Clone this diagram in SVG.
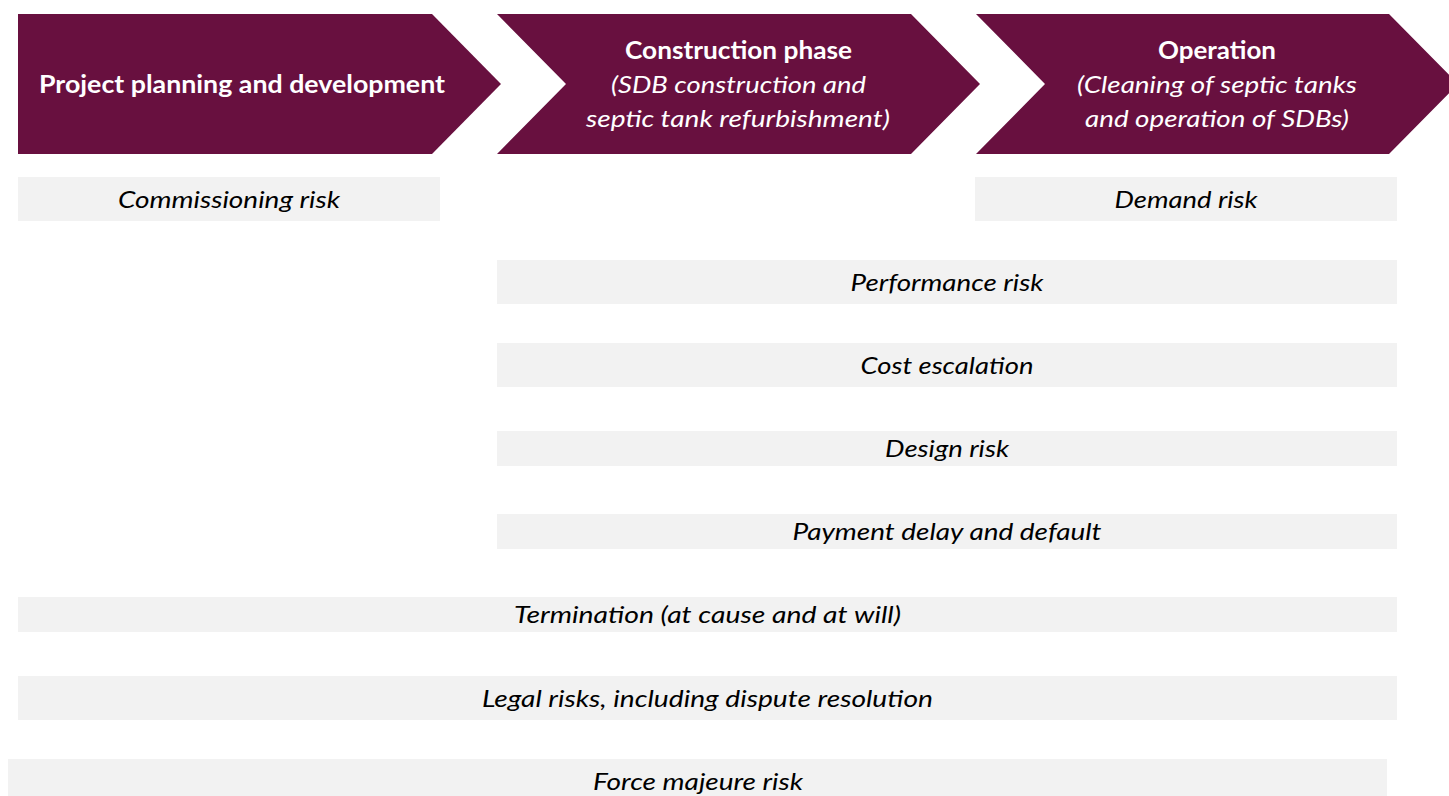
<svg xmlns="http://www.w3.org/2000/svg" width="1449" height="796" viewBox="0 0 1449 796">
<style>
.chev{fill:#68103F}
.bar{fill:#F2F2F2}
.ht{font-family:Lato,"Open Sans","Liberation Sans",sans-serif;font-size:24px;fill:#FFFFFF;text-anchor:middle}
.hb{font-weight:bold}
.hi{font-style:italic}
.bt{font-family:Lato,"Open Sans","Liberation Sans",sans-serif;font-size:24px;font-style:italic;fill:#000000;text-anchor:middle}
</style>
<rect width="1449" height="796" fill="#FFFFFF"/>
<g id="phase-planning">
<polygon class="chev" points="18,14 432,14 501,84 432,154 18,154"/>
<text class="ht hb" x="242" y="93" textLength="406" lengthAdjust="spacingAndGlyphs">Project planning and development</text>
</g>
<g id="phase-construction">
<polygon class="chev" points="497,14 911,14 980,84 911,154 497,154 566,84"/>
<text class="ht hb" x="738.5" y="59" textLength="227" lengthAdjust="spacingAndGlyphs">Construction phase</text>
<text class="ht hi" x="738.5" y="93" textLength="255" lengthAdjust="spacingAndGlyphs">(SDB construction and</text>
<text class="ht hi" x="738" y="127" textLength="304" lengthAdjust="spacingAndGlyphs">septic tank refurbishment)</text>
</g>
<g id="phase-operation">
<polygon class="chev" points="976,14 1389,14 1458,84 1389,154 976,154 1045,84"/>
<text class="ht hb" x="1217" y="59" textLength="118" lengthAdjust="spacingAndGlyphs">Operation</text>
<text class="ht hi" x="1217" y="93" textLength="280" lengthAdjust="spacingAndGlyphs">(Cleaning of septic tanks</text>
<text class="ht hi" x="1217" y="127" textLength="264" lengthAdjust="spacingAndGlyphs">and operation of SDBs)</text>
</g>
<g id="risk-commissioning">
<rect class="bar" x="18" y="177" width="422" height="44"/>
<text class="bt" x="229" y="208" textLength="222" lengthAdjust="spacingAndGlyphs">Commissioning risk</text>
</g>
<g id="risk-demand">
<rect class="bar" x="975" y="177" width="422" height="44"/>
<text class="bt" x="1186" y="208" textLength="143" lengthAdjust="spacingAndGlyphs">Demand risk</text>
</g>
<g id="risk-performance">
<rect class="bar" x="497" y="260" width="900" height="44"/>
<text class="bt" x="947" y="291" textLength="193" lengthAdjust="spacingAndGlyphs">Performance risk</text>
</g>
<g id="risk-cost">
<rect class="bar" x="497" y="343" width="900" height="44"/>
<text class="bt" x="947" y="374" textLength="173" lengthAdjust="spacingAndGlyphs">Cost escalation</text>
</g>
<g id="risk-design">
<rect class="bar" x="497" y="431" width="900" height="35"/>
<text class="bt" x="947" y="457" textLength="124" lengthAdjust="spacingAndGlyphs">Design risk</text>
</g>
<g id="risk-payment">
<rect class="bar" x="497" y="514" width="900" height="35"/>
<text class="bt" x="947" y="540" textLength="309" lengthAdjust="spacingAndGlyphs">Payment delay and default</text>
</g>
<g id="risk-termination">
<rect class="bar" x="18" y="597" width="1379" height="35"/>
<text class="bt" x="707.5" y="623" textLength="387" lengthAdjust="spacingAndGlyphs">Termination (at cause and at will)</text>
</g>
<g id="risk-legal">
<rect class="bar" x="18" y="676" width="1379" height="44"/>
<text class="bt" x="707.5" y="707" textLength="451" lengthAdjust="spacingAndGlyphs">Legal risks, including dispute resolution</text>
</g>
<g id="risk-force-majeure">
<rect class="bar" x="8" y="759" width="1379" height="37"/>
<text class="bt" x="698" y="790" textLength="210" lengthAdjust="spacingAndGlyphs">Force majeure risk</text>
</g>
<g id="connectors"></g>
</svg>
